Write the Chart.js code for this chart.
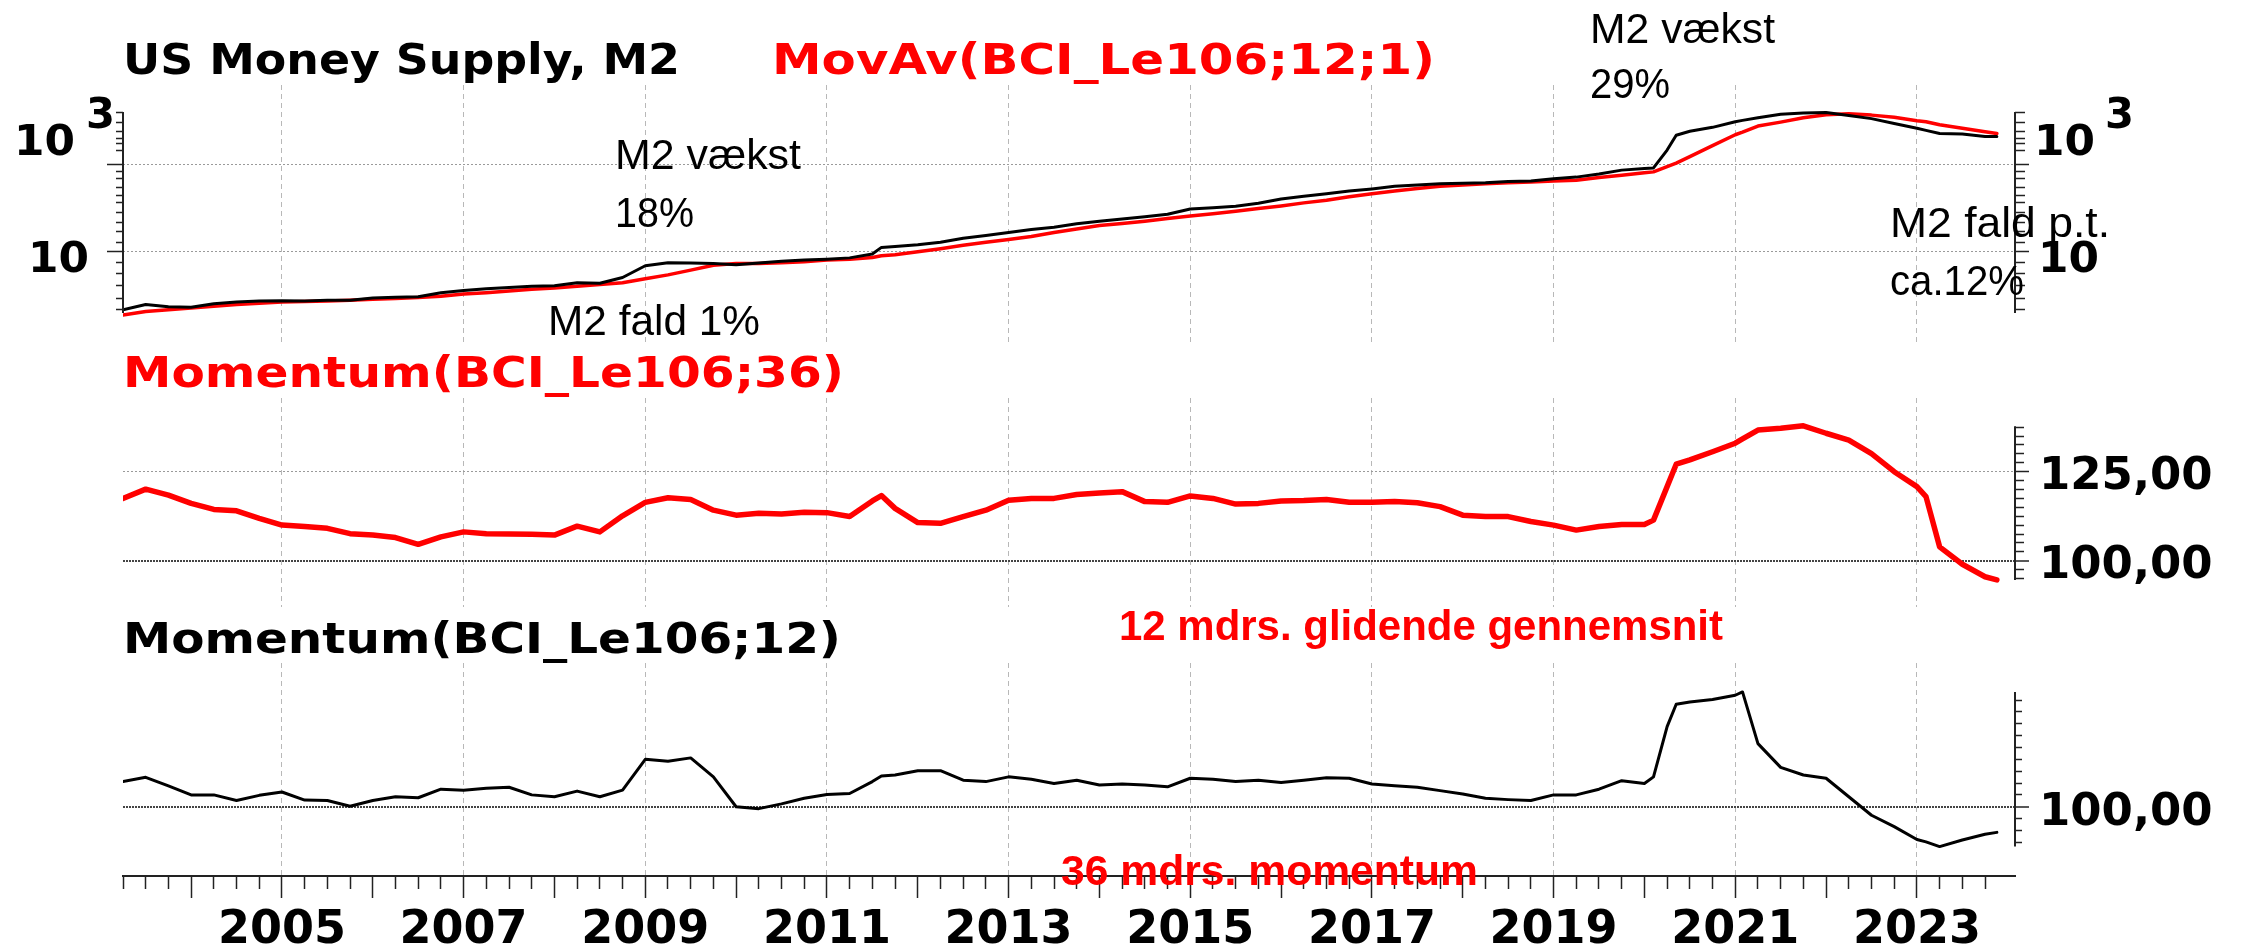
<!DOCTYPE html>
<html>
<head>
<meta charset="utf-8">
<title>US Money Supply, M2</title>
<script src="https://cdn.jsdelivr.net/npm/chart.js@4/dist/chart.umd.min.js"></script>
<style>
    html, body { margin: 0; padding: 0; background: #fff; }
    #wrap { position: relative; width: 2252px; height: 949px; }
    #wrap canvas { position: absolute; left: 0; top: 0; }
</style>
</head>
<body>
<div id="wrap">
    <canvas id="m2-chart" width="2252" height="949"></canvas>
    <canvas id="mom36-chart" width="2252" height="949"></canvas>
    <canvas id="mom12-chart" width="2252" height="949"></canvas>
</div>
<script>
(function () {
    'use strict';

    // Observation dates (decimal years): quarterly, plus a few extra
    // points where the lines jump; the last one is Nov 2023.
    var dates = [
        2003.25, 2003.5, 2003.75,
        2004, 2004.25, 2004.5, 2004.75,
        2005, 2005.25, 2005.5, 2005.75,
        2006, 2006.25, 2006.5, 2006.75,
        2007, 2007.25, 2007.5, 2007.75,
        2008, 2008.25, 2008.5, 2008.75,
        2009, 2009.25, 2009.5, 2009.75,
        2010, 2010.25, 2010.5, 2010.75,
        2011, 2011.25, 2011.5, 2011.6, 2011.75,
        2012, 2012.25, 2012.5, 2012.75,
        2013, 2013.25, 2013.5, 2013.75,
        2014, 2014.25, 2014.5, 2014.75,
        2015, 2015.25, 2015.5, 2015.75,
        2016, 2016.25, 2016.5, 2016.75,
        2017, 2017.25, 2017.5, 2017.75,
        2018, 2018.25, 2018.5, 2018.75,
        2019, 2019.25, 2019.5, 2019.75,
        2020, 2020.1, 2020.25, 2020.35, 2020.5, 2020.75,
        2021, 2021.08, 2021.25, 2021.5, 2021.75,
        2022, 2022.25, 2022.5, 2022.75,
        2023, 2023.1, 2023.25, 2023.5, 2023.75, 2023.88
    ];

    // Top panel, read as exponents of the log axis (1 = "10", 3 = "10^3").
    var m2Log = [
        -0.34, -0.22, -0.27,
        -0.28, -0.20, -0.16, -0.14,
        -0.13, -0.14, -0.12, -0.12,
        -0.07, -0.05, -0.04, 0.05,
        0.10, 0.14, 0.17, 0.20,
        0.21, 0.28, 0.27, 0.40,
        0.67, 0.74, 0.73, 0.72,
        0.69, 0.73, 0.77, 0.80,
        0.82, 0.85, 0.94, 1.09, 1.11,
        1.15, 1.21, 1.30, 1.36,
        1.43, 1.50, 1.55, 1.63,
        1.69, 1.74, 1.79, 1.85,
        1.97, 2.00, 2.03, 2.10,
        2.20, 2.26, 2.32, 2.38,
        2.43, 2.49, 2.52, 2.55,
        2.56, 2.57, 2.60, 2.61,
        2.66, 2.70, 2.77, 2.86,
        2.90, 2.91, 3.32, 3.66, 3.75, 3.84,
        3.97, 4.00, 4.06, 4.14, 4.17,
        4.18, 4.11, 4.04, 3.93,
        3.82, 3.77, 3.70, 3.69, 3.63, 3.63
    ];
    var m2MovAvLog = [
        -0.46, -0.38, -0.34,
        -0.30, -0.26, -0.22, -0.19,
        -0.16, -0.15, -0.14, -0.12,
        -0.10, -0.08, -0.06, -0.03,
        0.02, 0.05, 0.09, 0.13,
        0.16, 0.20, 0.24, 0.28,
        0.37, 0.46, 0.57, 0.68,
        0.72, 0.72, 0.74, 0.76,
        0.80, 0.82, 0.86, 0.90, 0.92,
        0.99, 1.06, 1.14, 1.21,
        1.27, 1.34, 1.43, 1.51,
        1.59, 1.64, 1.69, 1.75,
        1.81, 1.86, 1.92, 1.98,
        2.04, 2.11, 2.17, 2.25,
        2.32, 2.38, 2.44, 2.49,
        2.52, 2.55, 2.57, 2.59,
        2.61, 2.63, 2.69, 2.74,
        2.80, 2.82, 2.94, 3.02, 3.17, 3.42,
        3.67, 3.73, 3.87, 3.96, 4.06,
        4.13, 4.15, 4.12, 4.07,
        3.99, 3.97, 3.90, 3.82, 3.74, 3.70
    ];

    // Momentum(BCI_Le106;36)
    var mom36 = [
        117.5, 120.1, 118.4,
        116.1, 114.4, 114.0, 111.9,
        110.0, 109.6, 109.1, 107.6,
        107.2, 106.5, 104.6, 106.7,
        108.1, 107.6, 107.5, 107.4,
        107.2, 109.7, 108.1, 112.6,
        116.4, 117.7, 117.2, 114.2,
        112.8, 113.3, 113.1, 113.6,
        113.5, 112.4, 116.8, 118.3, 114.7,
        110.7, 110.5, 112.4, 114.2,
        117.0, 117.5, 117.5, 118.6,
        119.0, 119.4, 116.6, 116.4,
        118.2, 117.5, 115.9, 116.1,
        116.8, 116.9, 117.2, 116.4,
        116.4, 116.6, 116.3, 115.2,
        112.8, 112.4, 112.4, 111.0,
        110.0, 108.6, 109.6, 110.2,
        110.2, 111.4, 120.8, 127.1, 128.3, 130.6,
        133.0, 134.2, 136.7, 137.2, 137.9,
        135.8, 133.9, 130.1, 125.0,
        120.8, 118.0, 103.9, 99.0, 95.5, 94.6
    ];

    // Momentum(BCI_Le106;12)
    var mom12 = [
        105.3, 106.2, 104.4,
        102.5, 102.5, 101.3, 102.4,
        103.1, 101.4, 101.3, 100.1,
        101.3, 102.1, 101.9, 103.7,
        103.5, 103.9, 104.1, 102.5,
        102.1, 103.3, 102.1, 103.5,
        110.0, 109.6, 110.3, 106.3,
        100.0, 99.6, 100.6, 101.8,
        102.6, 102.8, 105.3, 106.5, 106.7,
        107.6, 107.6, 105.6, 105.3,
        106.3, 105.8, 104.9, 105.6,
        104.6, 104.8, 104.6, 104.2,
        106.0, 105.8, 105.3, 105.6,
        105.1, 105.6, 106.1, 106.0,
        104.8, 104.4, 104.1, 103.4,
        102.7, 101.8, 101.5, 101.3,
        102.5, 102.5, 103.7, 105.5,
        104.9, 106.3, 116.9, 121.6, 122.1, 122.6,
        123.5, 124.2, 113.3, 108.3, 106.7,
        106.0, 102.1, 98.2, 95.8,
        93.1, 92.6, 91.6, 93.0, 94.2, 94.6
    ];

    var yearLabels = [2005, 2007, 2009, 2011, 2013, 2015, 2017, 2019, 2021, 2023];

    var m2Ticks = [-0.34, -0.09, 0.21, 0.5, 0.75, 1, 1.21, 1.46, 1.67, 1.9, 2.11,
        2.29, 2.47, 2.66, 2.82, 3, 3.3, 3.46, 3.59, 3.75, 3.96, 4.17];
    var m2Labels = [1, 3];
    var m2AxisSpan = [-0.41, 4.19];

    var mom36Ticks = [95, 97.5, 100, 102.5, 105, 107.5, 110, 112.5, 115, 117.5,
        120, 122.5, 125, 127.5, 130, 132.5, 135, 137.5];
    var mom36Labels = [100, 125];
    var mom36AxisSpan = [94.6, 137.8];

    var mom12Ticks = [92.5, 95, 97.5, 100, 102.5, 105, 107.5, 110, 112.5, 115,
        117.5, 120, 122.5];
    var mom12Labels = [100];
    var mom12AxisSpan = [91.6, 124.2];

    var RED = '#ff0000';
    var VGRID = '#b8b8b8';
    var HGRID = '#9a9a9a';
    var NONE = 'rgba(0,0,0,0)';
    var TITLE_FONT = 'bold 43px "DejaVu Sans"';
    var NOTE_FONT = '42px "Liberation Sans"';
    var NOTE_BOLD = 'bold 42px "Liberation Sans"';
    var LABEL_FONT = 'bold 42px "DejaVu Sans"';

    function series(values) {
        return dates.map(function (d, i) { return { x: d, y: values[i] }; });
    }

    function setTicks(list) {
        return function (s) {
            s.ticks = list.map(function (v) { return { value: v }; });
        };
    }

    function has(list, v) {
        for (var i = 0; i < list.length; i++) {
            if (Math.abs(list[i] - v) < 1e-6) return true;
        }
        return false;
    }

    function wholeYear(v) {
        return Math.abs(v - Math.round(v)) < 1e-6;
    }

    // Draw text at a baseline, stretched to the width it has in the reference.
    function fitText(ctx, text, x, y, font, color, width) {
        ctx.save();
        ctx.font = font;
        ctx.fillStyle = color;
        ctx.textAlign = 'left';
        ctx.textBaseline = 'alphabetic';
        var w = ctx.measureText(text).width;
        ctx.translate(x, y);
        if (width) ctx.scale(width / w, 1);
        ctx.fillText(text, 0, 0);
        ctx.restore();
    }

    function axisLine(ctx, scale, span) {
        var x = scale.position === 'left' ? scale.right : scale.left;
        ctx.save();
        ctx.strokeStyle = '#222';
        ctx.lineWidth = 2;
        ctx.beginPath();
        ctx.moveTo(x, scale.getPixelForValue(span[0]));
        ctx.lineTo(x, scale.getPixelForValue(span[1]));
        ctx.stroke();
        ctx.restore();
    }

    function timeAxis(withLabels) {
        return {
            type: 'linear',
            min: 2003.25,
            max: 2024.08,
            afterBuildTicks: function (s) {
                // a tick every quarter, long ones on whole years
                s.ticks = dates.filter(function (d) {
                    return Math.abs(d * 4 - Math.round(d * 4)) < 1e-6;
                }).map(function (d) { return { value: d }; });
            },
            afterFit: function (s) { s.height = withLabels ? 73 : 0; },
            ticks: {
                display: withLabels,
                autoSkip: false,
                maxRotation: 0,
                minRotation: 0,
                padding: 5,
                color: '#000',
                font: { family: 'DejaVu Sans', size: 46, weight: 'bold' },
                callback: function (v) { return has(yearLabels, v) ? String(v) : ''; }
            },
            grid: {
                color: function (c) { return c.tick && has(yearLabels, c.tick.value) ? VGRID : NONE; },
                lineWidth: 1,
                drawTicks: withLabels,
                tickLength: 22,
                tickColor: '#222',
                tickWidth: 1.5,
                tickBorderDash: function (c) { return c.tick && wholeYear(c.tick.value) ? [] : [12, 100]; }
            },
            border: { display: withLabels, color: '#222', width: 2, dash: [5, 4] }
        };
    }

    // Right-hand value axis of the momentum panels.
    function valueAxis(min, max, ticks, labels, minorLen, labelOffset) {
        return {
            position: 'right',
            min: min,
            max: max,
            afterBuildTicks: setTicks(ticks),
            afterFit: function (s) { s.width = 237; },
            ticks: {
                autoSkip: false,
                padding: 10,
                labelOffset: labelOffset,
                color: '#000',
                font: { family: 'DejaVu Sans', size: 45, weight: 'bold' },
                callback: function (v) {
                    return has(labels, v) ? v.toFixed(2).replace('.', ',') : '';
                }
            },
            grid: {
                color: function (c) {
                    if (!c.tick || !has(labels, c.tick.value)) return NONE;
                    return c.tick.value === 100 ? '#444' : HGRID;
                },
                lineWidth: function (c) { return c.tick && c.tick.value === 100 ? 2 : 1; },
                tickLength: 14,
                tickColor: '#222',
                tickWidth: 1.5,
                tickBorderDash: function (c) {
                    return c.tick && has(labels, c.tick.value) ? [] : [minorLen, 100];
                }
            },
            border: {
                display: false,
                dash: function (c) { return c.tick && c.tick.value === 100 ? [2, 1] : [2, 2]; }
            }
        };
    }

    function baseOptions(padding, scales) {
        return {
            responsive: false,
            animation: false,
            devicePixelRatio: 1,
            events: [],
            layout: { padding: padding },
            plugins: { legend: { display: false }, tooltip: { enabled: false } },
            elements: {
                point: { radius: 0 },
                line: { tension: 0, borderJoinStyle: 'round', borderCapStyle: 'round', fill: false }
            },
            scales: scales
        };
    }

    // M2 panel: log axis with ticks on both sides.
    function m2Axis(side) {
        var left = side === 'left';
        return {
            position: side,
            min: -1.10,
            max: 4.81,
            afterBuildTicks: setTicks(m2Ticks),
            afterFit: function (s) { s.width = left ? 123 : 237; },
            ticks: { display: false },
            grid: {
                drawOnChartArea: left,
                color: function (c) { return c.tick && has(m2Labels, c.tick.value) ? HGRID : NONE; },
                lineWidth: 1,
                tickLength: left ? 16 : 14,
                tickColor: '#222',
                tickWidth: 1.5,
                tickBorderDash: function (c) {
                    if (c.tick && has(m2Labels, c.tick.value)) return [];
                    return left ? [0, 9, 7, 100] : [10, 100];
                }
            },
            border: { display: false, dash: [2, 2] }
        };
    }

    new Chart(document.getElementById('m2-chart'), {
        type: 'line',
        data: {
            datasets: [{
                label: 'US Money Supply, M2',
                data: series(m2Log),
                borderColor: '#000',
                borderWidth: 3,
                yAxisID: 'y'
            }, {
                label: 'MovAv(BCI_Le106;12;1)',
                data: series(m2MovAvLog),
                borderColor: RED,
                borderWidth: 3.5,
                yAxisID: 'y'
            }]
        },
        options: baseOptions({ top: 85, bottom: 606, left: 0, right: 0 }, {
            x: timeAxis(false),
            y: m2Axis('left'),
            y2: m2Axis('right')
        }),
        plugins: [{
            id: 'm2Decor',
            afterDraw: function (chart) {
                var ctx = chart.ctx;
                var a = chart.chartArea;
                var s = chart.scales.y;
                axisLine(ctx, s, m2AxisSpan);
                axisLine(ctx, chart.scales.y2, m2AxisSpan);
                m2Labels.forEach(function (v) {
                    var py = s.getPixelForValue(v);
                    if (v === 1) {
                        fitText(ctx, '10', a.left - 95, py + 21, LABEL_FONT, '#000', 61);
                        fitText(ctx, '10', a.right + 23, py + 21, LABEL_FONT, '#000', 61);
                    } else {
                        fitText(ctx, '10', a.left - 109, py - 9, LABEL_FONT, '#000', 61);
                        fitText(ctx, String(v), a.left - 37, py - 36, LABEL_FONT, '#000', 29);
                        fitText(ctx, '10', a.right + 19, py - 9, LABEL_FONT, '#000', 61);
                        fitText(ctx, String(v), a.right + 90, py - 36, LABEL_FONT, '#000', 29);
                    }
                });
            }
        }]
    });

    new Chart(document.getElementById('mom36-chart'), {
        type: 'line',
        data: {
            datasets: [{
                label: 'Momentum(BCI_Le106;36)',
                data: series(mom36),
                borderColor: RED,
                borderWidth: 5.5
            }]
        },
        options: baseOptions({ top: 398, bottom: 342, left: 123, right: 0 }, {
            x: timeAxis(false),
            y: valueAxis(87.0, 145.7, mom36Ticks, mom36Labels, 9, 6)
        }),
        plugins: [{
            id: 'mom36Decor',
            afterDraw: function (chart) {
                axisLine(chart.ctx, chart.scales.y, mom36AxisSpan);
            }
        }]
    });

    new Chart(document.getElementById('mom12-chart'), {
        type: 'line',
        data: {
            datasets: [{
                label: 'Momentum(BCI_Le106;12)',
                data: series(mom12),
                borderColor: '#000',
                borderWidth: 3
            }]
        },
        options: baseOptions({ top: 663, bottom: 0, left: 123, right: 0 }, {
            x: timeAxis(true),
            y: valueAxis(85.4, 130.3, mom12Ticks, mom12Labels, 7, 7)
        }),
        plugins: [{
            id: 'mom12Decor',
            afterDraw: function (chart) {
                var ctx = chart.ctx;
                axisLine(ctx, chart.scales.y, mom12AxisSpan);

                // Titles and notes for all three panels.
                fitText(ctx, 'US Money Supply, M2', 123, 74, TITLE_FONT, '#000', 557);
                fitText(ctx, 'MovAv(BCI_Le106;12;1)', 772, 74, TITLE_FONT, RED, 663);
                fitText(ctx, 'M2 vækst', 615, 169, NOTE_FONT, '#000', 186);
                fitText(ctx, '18%', 615, 227, NOTE_FONT, '#000', 79);
                fitText(ctx, 'M2 fald 1%', 548, 335, NOTE_FONT, '#000', 212);
                fitText(ctx, 'M2 vækst', 1590, 43, NOTE_FONT, '#000', 185);
                fitText(ctx, '29%', 1590, 98, NOTE_FONT, '#000', 80);
                fitText(ctx, 'M2 fald p.t.', 1890, 237, NOTE_FONT, '#000', 220);
                fitText(ctx, 'ca.12%', 1890, 295, NOTE_FONT, '#000', 134);
                fitText(ctx, 'Momentum(BCI_Le106;36)', 123, 387, TITLE_FONT, RED, 721);
                fitText(ctx, '12 mdrs. glidende gennemsnit', 1119, 640, NOTE_BOLD, RED, 604);
                fitText(ctx, 'Momentum(BCI_Le106;12)', 123, 653, TITLE_FONT, '#000', 718);
                fitText(ctx, '36 mdrs. momentum', 1061, 885, NOTE_BOLD, RED, 417);
            }
        }]
    });
})();
</script>
</body>
</html>
